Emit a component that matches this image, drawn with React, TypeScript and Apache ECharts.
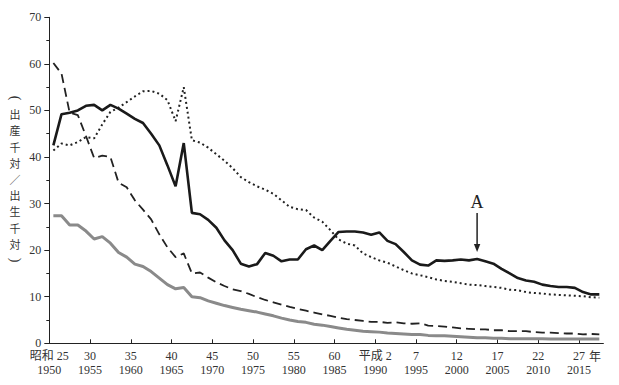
import React, { useEffect, useRef } from "react";
import * as echarts from "echarts";

const FIRST_YEAR = 1950;

// 人工死産率 (solid)
const ARTIFICIAL = [
  42.5, 49.2, 49.5, 50.0, 51.0, 51.2, 50.0, 51.2, 50.4, 49.3,
  48.2, 47.3, 45.0, 42.5, 38.2, 33.7, 43.0, 28.0, 27.7, 26.5,
  24.8, 22.1, 20.0, 17.1, 16.5, 17.0, 19.4, 18.8, 17.6, 18.0,
  18.0, 20.2, 21.0, 20.0, 22.0, 23.9, 24.0, 24.0, 23.8, 23.3,
  23.8, 22.0, 21.3, 19.6, 17.8, 16.9, 16.7, 17.8, 17.7, 17.8,
  18.0, 17.8, 18.1, 17.6, 17.1, 16.0, 15.0, 14.0, 13.5, 13.2,
  12.6, 12.3, 12.1, 12.1, 11.9, 11.0, 10.5, 10.5,
];

// 自然死産率 (dotted)
const NATURAL = [
  41.4, 42.9, 42.5, 43.2, 44.3, 44.0, 47.0, 49.7, 50.6, 51.8,
  53.0, 54.1, 54.2, 53.6, 52.2, 47.7, 55.0, 43.6, 43.1, 42.0,
  40.6, 39.2, 37.6, 35.7, 34.6, 33.7, 33.0, 32.1, 30.7, 29.3,
  28.8, 28.6, 27.0, 26.1, 24.3, 22.3, 21.4, 21.0, 19.3, 18.5,
  17.8, 17.3, 16.5, 15.7, 15.0, 14.6, 14.2, 13.7, 13.4, 13.2,
  12.9, 12.6, 12.5, 12.3, 12.1, 11.9, 11.5, 11.4, 11.0, 10.8,
  10.7, 10.5, 10.4, 10.3, 10.2, 10.1, 9.9, 9.8,
];

// 乳児死亡率 (dashed)
const INFANT = [
  60.2, 57.9, 49.5, 49.0, 44.5, 39.8, 40.3, 40.0, 34.5, 33.5,
  30.7, 28.7, 26.6, 23.4, 20.6, 18.5, 19.3, 15.0, 15.2, 14.1,
  13.1, 12.3, 11.6, 11.2, 10.6, 9.9, 9.3, 8.8, 8.3, 7.8,
  7.4, 7.0, 6.6, 6.2, 5.9, 5.5, 5.2, 5.0, 4.8, 4.6,
  4.6, 4.4, 4.5, 4.3, 4.2, 4.3, 3.8, 3.7, 3.6, 3.4,
  3.2, 3.1, 3.0, 3.0, 2.8, 2.8, 2.6, 2.6, 2.6, 2.4,
  2.3, 2.3, 2.2, 2.1, 2.1, 1.9, 2.0, 1.9,
];

// 新生児死亡率 (gray)
const NEONATAL = [
  27.4, 27.4, 25.4, 25.4, 24.1, 22.4, 22.9, 21.5, 19.5, 18.5,
  17.0, 16.5, 15.4, 14.0, 12.6, 11.7, 12.0, 10.0, 9.8, 9.1,
  8.6, 8.1, 7.7, 7.3, 7.0, 6.7, 6.3, 5.9, 5.4, 5.0,
  4.7, 4.5, 4.1, 3.9, 3.6, 3.3, 3.0, 2.8, 2.6, 2.5,
  2.4, 2.2, 2.1, 2.0, 1.9, 1.9, 1.7, 1.6, 1.6, 1.5,
  1.4, 1.3, 1.2, 1.2, 1.1, 1.1, 1.0, 1.0, 1.0, 1.0,
  1.0, 0.9, 0.9, 0.9, 0.9, 0.9, 0.9, 0.9,
];

const TICK_YEARS = [1950, 1955, 1960, 1965, 1970, 1975, 1980, 1985, 1990, 1995, 2000, 2005, 2010, 2015];
const ERA_LABELS = ["昭和 25", "30", "35", "40", "45", "50", "55", "60", "平成 2", "7", "12", "17", "22", "27"];
const Y_TITLE = ["(", "出", "産", "千", "対", "／", "出", "生", "千", "対", ")"];
const ARROW_YEAR = 2002;
const ARROW_LABEL = "A";
const YEAR_UNIT = "年";

const FONT = "'Liberation Serif', 'DejaVu Serif', 'Noto Sans CJK JP', serif";
const INK = "#222";

export default function App() {
  const ref = useRef<HTMLDivElement>(null);

  useEffect(() => {
    const chart = echarts.init(ref.current!, null, { renderer: "svg" });
    const mk = (vals: number[]) => vals.map((v, i) => [FIRST_YEAR + i + 0.5, v]);

    chart.setOption({
      animation: false,
      grid: { left: 49.3, right: 15.6, top: 17.3, bottom: 41.7, containLabel: false },
      xAxis: {
        type: "value",
        min: 1950,
        max: 2018,
        interval: 5,
        axisLine: { show: true, onZero: true, lineStyle: { color: INK, width: 1 } },
        axisTick: { show: true, inside: true, length: 4, customValues: TICK_YEARS, lineStyle: { color: INK } },
        axisLabel: {
          customValues: TICK_YEARS,
          formatter: (v: number) => {
            const i = TICK_YEARS.indexOf(Math.round(v));
            return i >= 0 ? `${ERA_LABELS[i]}\n${TICK_YEARS[i]}` : "";
          },
          fontFamily: FONT,
          fontSize: 12,
          lineHeight: 14,
          color: "#333",
          margin: 6,
        },
        splitLine: { show: false },
      },
      yAxis: {
        type: "value",
        min: 0,
        max: 70,
        interval: 10,
        axisLine: { show: true, lineStyle: { color: INK, width: 1 } },
        axisTick: { show: true, length: 5, lineStyle: { color: INK } },
        minorTick: { show: true, splitNumber: 2, length: 3, lineStyle: { color: INK } },
        axisLabel: { fontFamily: FONT, fontSize: 12, color: "#333", margin: 8 },
        splitLine: { show: false },
        minorSplitLine: { show: false },
      },
      series: [
        {
          type: "line",
          data: mk(NEONATAL),
          symbol: "none",
          lineStyle: { color: "#8a8a8a", width: 3 },
          z: 2,
        },
        {
          type: "line",
          data: mk(INFANT),
          symbol: "none",
          lineStyle: { color: INK, width: 1.8, type: [9, 5] },
          z: 3,
        },
        {
          type: "line",
          data: mk(NATURAL),
          symbol: "none",
          lineStyle: { color: INK, width: 2, type: [2, 3] },
          z: 4,
        },
        {
          type: "line",
          data: mk(ARTIFICIAL),
          symbol: "none",
          lineStyle: { color: "#1a1a1a", width: 2.6 },
          z: 5,
        },
      ],
    });

    const idx = ARROW_YEAR - FIRST_YEAR;
    const p = chart.convertToPixel({ gridIndex: 0 }, [ARROW_YEAR + 0.5, ARTIFICIAL[idx]]) as number[];
    const yearEnd = chart.convertToPixel({ gridIndex: 0 }, [2015, 0]) as number[];
    const px = p[0];
    const py = p[1];

    const titleStep = 16.2;
    const titleTop = 179 - ((Y_TITLE.length - 1) * titleStep) / 2;
    const titleEls = Y_TITLE.map((ch, i) => {
      const isBracket = ch === "(" || ch === ")";
      return {
        type: "text",
        x: 15,
        y: titleTop + i * titleStep,
        rotation: isBracket ? -Math.PI / 2 : 0,
        style: {
          text: ch,
          font: isBracket ? `14px ${FONT}` : "11px 'Noto Sans CJK JP'",
          lineHeight: 11,
          align: "center",
          verticalAlign: "middle",
          fill: "#333",
        },
      };
    });

    chart.setOption({
      graphic: [
        ...titleEls,
        {
          type: "text",
          x: yearEnd[0] + 16,
          y: yearEnd[1] + 13.5,
          style: {
            text: YEAR_UNIT,
            font: `12px ${FONT}`,
            align: "center",
            verticalAlign: "middle",
            fill: "#333",
          },
        },
        {
          type: "text",
          x: px,
          y: py - 57,
          style: {
            text: ARROW_LABEL,
            font: `18px ${FONT}`,
            align: "center",
            verticalAlign: "middle",
            fill: INK,
          },
        },
        {
          type: "line",
          shape: { x1: px, y1: py - 46, x2: px, y2: py - 14 },
          style: { stroke: INK, lineWidth: 1.5 },
        },
        {
          type: "polygon",
          shape: { points: [[px - 3.2, py - 15], [px + 3.2, py - 15], [px, py - 7]] },
          style: { fill: INK },
        },
      ],
    });

    return () => chart.dispose();
  }, []);

  return (
    <div
      ref={ref}
      style={{ position: "fixed", left: 0, top: 0, width: 619, height: 385, background: "#fff" }}
    />
  );
}
